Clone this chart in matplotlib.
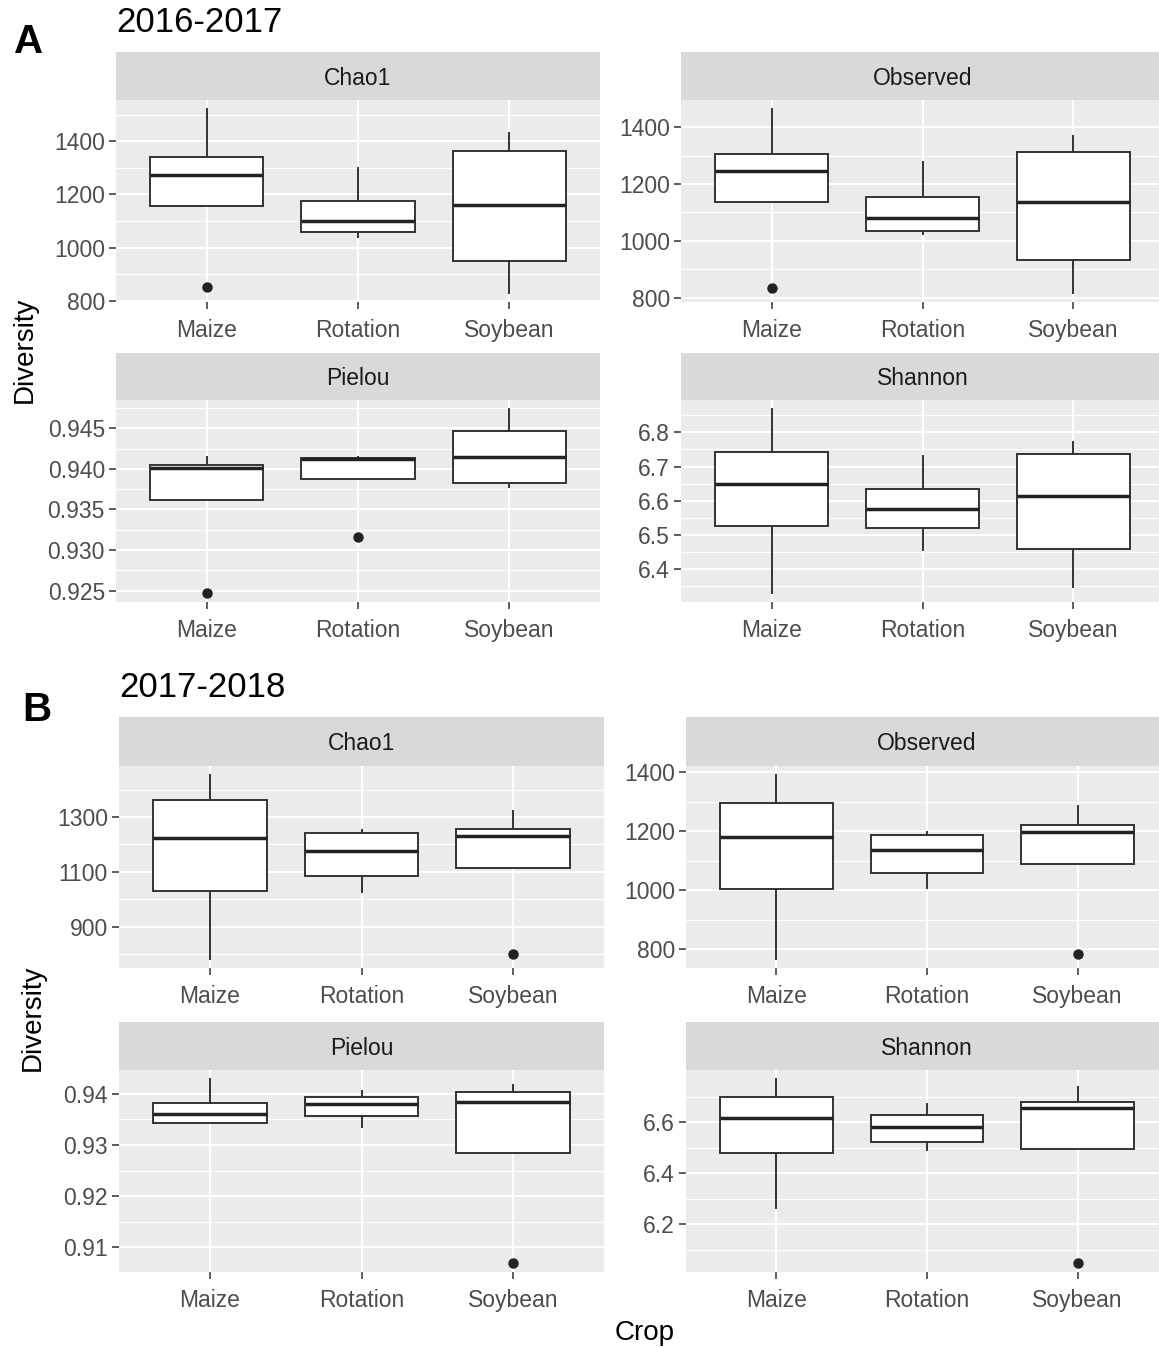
import matplotlib.pyplot as plt

plt.rcParams['font.family'] = ['Liberation Sans', 'DejaVu Sans']

W, H = 1159, 1347

crops = ['Maize', 'Rotation', 'Soybean']

# box stats per crop: [lower whisker, q1, median, q3, upper whisker]
a_chao1 = [[1158, 1158, 1272, 1341, 1520], [1041, 1058, 1098, 1174, 1300], [830, 950, 1161, 1362, 1432]]
a_chao1_out = [[853], [], []]
a_observed = [[1138, 1138, 1245, 1304, 1463], [1025, 1036, 1081, 1153, 1277], [817, 933, 1136, 1311, 1367]]
a_observed_out = [[835], [], []]
a_pielou = [[0.93613, 0.93613, 0.94005, 0.94046, 0.94149], [0.93877, 0.93877, 0.94120, 0.94137, 0.94150],
            [0.93778, 0.93828, 0.94149, 0.94467, 0.94735]]
a_pielou_out = [[0.92472], [0.93163], []]
a_shannon = [[6.330, 6.525, 6.649, 6.743, 6.868], [6.456, 6.520, 6.575, 6.634, 6.732], [6.348, 6.459, 6.614, 6.736, 6.772]]
a_shannon_out = [[], [], []]

b_chao1 = [[782, 1028, 1225, 1364, 1453], [1026, 1084, 1176, 1243, 1251], [1113, 1113, 1230, 1256, 1322]]
b_chao1_out = [[], [], [800]]
b_observed = [[768, 1004, 1179, 1296, 1390], [1009, 1058, 1135, 1188, 1197], [1089, 1089, 1199, 1222, 1284]]
b_observed_out = [[], [], [786]]
b_pielou = [[0.93435, 0.93435, 0.93609, 0.93813, 0.94283], [0.93345, 0.93557, 0.93801, 0.93936, 0.94052],
            [0.92838, 0.92838, 0.93833, 0.94039, 0.94167]]
b_pielou_out = [[], [], [0.90701]]
b_shannon = [[6.263, 6.478, 6.619, 6.701, 6.770], [6.490, 6.524, 6.581, 6.630, 6.671], [6.494, 6.494, 6.656, 6.682, 6.740]]
b_shannon_out = [[], [], [6.048]]

# y tick values
ticks_a_count = [800, 1000, 1200, 1400]
ticks_a_pielou = [0.925, 0.930, 0.935, 0.940, 0.945]
ticks_a_shannon = [6.4, 6.5, 6.6, 6.7, 6.8]
ticks_b_chao1 = [900, 1100, 1300]
ticks_b_observed = [800, 1000, 1200, 1400]
ticks_b_pielou = [0.91, 0.92, 0.93, 0.94]
ticks_b_shannon = [6.2, 6.4, 6.6]

fig = plt.figure(figsize=(W / 100, H / 100), dpi=100)


def px_axes(x0, y0, x1, y1):
    return fig.add_axes([x0 / W, 1 - y1 / H, (x1 - x0) / W, (y1 - y0) / H])


def facet(x0, x1, ys, ye, ptop, name, stats, outs, ticks, fmt):
    # strip
    sax = px_axes(x0, ys, x1, ptop)
    sax.set_facecolor('#D9D9D9')
    sax.set_xticks([])
    sax.set_yticks([])
    for s in sax.spines.values():
        s.set_visible(False)
    sax.text(0.5, 0.45, name, ha='center', va='center', fontsize=16.5, color='#1A1A1A',
             transform=sax.transAxes)

    ax = px_axes(x0, ptop, x1, ye)
    ax.set_facecolor('#EBEBEB')
    for s in ax.spines.values():
        s.set_visible(False)

    bxp_stats = []
    for st, fl in zip(stats, outs):
        bxp_stats.append(dict(whislo=st[0], q1=st[1], med=st[2], q3=st[3], whishi=st[4], fliers=fl))
    ax.bxp(bxp_stats, positions=[1, 2, 3], widths=0.75, patch_artist=True, showcaps=False,
           boxprops=dict(facecolor='white', edgecolor='#333333', linewidth=1.4),
           medianprops=dict(color='#222222', linewidth=2.5),
           whiskerprops=dict(color='#333333', linewidth=1.4),
           flierprops=dict(marker='o', markerfacecolor='#222222', markeredgecolor='#222222', markersize=6.5),
           zorder=3)

    step = ticks[1] - ticks[0]
    minor = [t - step / 2 for t in ticks] + [ticks[-1] + step / 2]
    ax.set_yticks(ticks)
    ax.set_yticklabels([fmt.format(t) for t in ticks])
    ax.set_yticks(minor, minor=True)
    ax.set_xticks([1, 2, 3])
    ax.set_xticklabels(crops)

    # ggplot-style 5% expansion of the data range (set after ticks)
    vals = [v for st in stats for v in st] + [v for fl in outs for v in fl]
    lo, hi = min(vals), max(vals)
    pad = (hi - lo) * 0.05
    ax.set_ylim(lo - pad, hi + pad)
    ax.set_xlim(0.4, 3.6)

    ax.grid(True, which='major', color='white', linewidth=1.5, zorder=0)
    ax.grid(True, which='minor', axis='y', color='white', linewidth=0.8, zorder=0)
    ax.set_axisbelow(True)
    ax.tick_params(axis='both', which='major', labelsize=16.5, labelcolor='#4D4D4D', color='#333333',
                   length=5, width=1.1, pad=3)
    ax.tick_params(axis='x', which='major', pad=7)
    ax.tick_params(axis='y', which='minor', length=0)
    return ax


# Panel A
facet(116, 600, 52, 302, 100, 'Chao1', a_chao1, a_chao1_out, ticks_a_count, '{:.0f}')
facet(681, 1164, 52, 302, 100, 'Observed', a_observed, a_observed_out, ticks_a_count, '{:.0f}')
facet(116, 600, 353, 602, 400, 'Pielou', a_pielou, a_pielou_out, ticks_a_pielou, '{:.3f}')
facet(681, 1164, 353, 602, 400, 'Shannon', a_shannon, a_shannon_out, ticks_a_shannon, '{:.1f}')

# Panel B
facet(119, 604, 717, 968, 766, 'Chao1', b_chao1, b_chao1_out, ticks_b_chao1, '{:.0f}')
facet(686, 1168, 717, 968, 766, 'Observed', b_observed, b_observed_out, ticks_b_observed, '{:.0f}')
facet(119, 604, 1022, 1272, 1070, 'Pielou', b_pielou, b_pielou_out, ticks_b_pielou, '{:.2f}')
facet(686, 1168, 1022, 1272, 1070, 'Shannon', b_shannon, b_shannon_out, ticks_b_shannon, '{:.1f}')


def fig_text(x, y, s, **kw):
    fig.text(x / W, 1 - y / H, s, **kw)


fig_text(29, 42, 'A', fontsize=29, fontweight='bold', ha='center', va='center')
fig_text(116, 22, '2016-2017', fontsize=25, ha='left', va='center')
fig_text(37, 710, 'B', fontsize=29, fontweight='bold', ha='center', va='center')
fig_text(119, 687, '2017-2018', fontsize=25, ha='left', va='center')
fig_text(25, 350, 'Diversity', fontsize=20, rotation=90, ha='center', va='center')
fig_text(33, 1018, 'Diversity', fontsize=20, rotation=90, ha='center', va='center')
fig_text(645, 1333, 'Crop', fontsize=20, ha='center', va='center')

fig.savefig('out.png', dpi=100)
